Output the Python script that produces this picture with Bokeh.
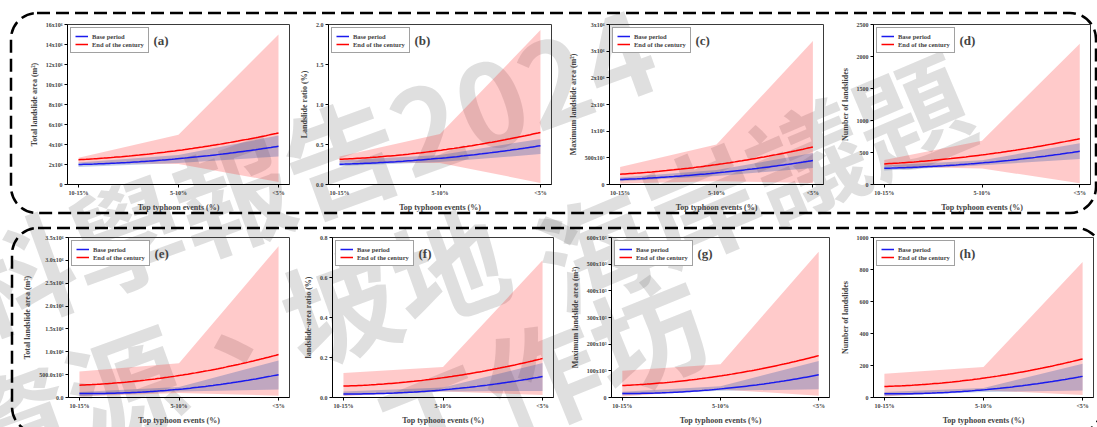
import numpy as np
from urllib.parse import quote
from bokeh.plotting import figure
from bokeh.layouts import row, column
from bokeh.models import Range1d, FixedTicker, Legend, LegendItem, Label
from bokeh.embed import file_html
from bokeh.resources import INLINE

# ---------------- data ----------------
categories = ["10-15%", "5-10%", "<5%"]
x_title = "Top typhoon events (%)"
series_names = ["Base period", "End of the century"]

# (a)
a_title = "Total landslide area (m²)"
a_base = [2.0e6, 2.58e6, 3.82e6]
a_base_lo = [1.75e6, 2.15e6, 2.8e6]
a_base_hi = [2.2e6, 2.95e6, 4.9e6]
a_end = [2.48e6, 3.41e6, 5.15e6]
a_end_lo = [2.15e6, 2.05e6, 0.25e6]
a_end_hi = [2.68e6, 4.97e6, 15.0e6]
a_yticks = [0, 2e6, 4e6, 6e6, 8e6, 10e6, 12e6, 14e6, 16e6]
a_ylabels = ["0", "2x10⁶", "4x10⁶", "6x10⁶", "8x10⁶", "10x10⁶", "12x10⁶", "14x10⁶", "16x10⁶"]

# (b)
b_title = "Landslide ratio (%)"
b_base = [0.253, 0.328, 0.485]
b_base_lo = [0.23, 0.28, 0.38]
b_base_hi = [0.30, 0.37, 0.57]
b_end = [0.315, 0.427, 0.651]
b_end_lo = [0.275, 0.27, 0.02]
b_end_hi = [0.35, 0.63, 1.93]
b_yticks = [0.0, 0.5, 1.0, 1.5, 2.0]
b_ylabels = ["0.0", "0.5", "1.0", "1.5", "2.0"]

# (c)
c_title = "Maximum landslide area (m²)"
c_base = [0.093e6, 0.218e6, 0.448e6]
c_base_lo = [0.06e6, 0.16e6, 0.31e6]
c_base_hi = [0.13e6, 0.27e6, 0.59e6]
c_end = [0.193e6, 0.373e6, 0.703e6]
c_end_lo = [0.02e6, 0.06e6, 0.03e6]
c_end_hi = [0.33e6, 0.75e6, 2.69e6]
c_yticks = [0, 0.5e6, 1.0e6, 1.5e6, 2.0e6, 2.5e6, 3.0e6]
c_ylabels = ["0", "500x10³", "1x10⁶", "2x10⁶", "2x10⁶", "3x10⁶", "3x10⁶"]

# (d)
d_title = "Number of landslides"
d_base = [254, 337, 519]
d_base_lo = [218, 300, 400]
d_base_hi = [296, 380, 643]
d_end = [322, 462, 716]
d_end_lo = [280, 250, 20]
d_end_hi = [384, 685, 2199]
d_yticks = [0, 500, 1000, 1500, 2000, 2500]
d_ylabels = ["0", "500", "1000", "1500", "2000", "2500"]

# (e)
e_title = "Total landslide area (m²)"
e_base = [0.088e6, 0.18e6, 0.50e6]
e_base_lo = [0.03e6, 0.13e6, 0.175e6]
e_base_hi = [0.12e6, 0.23e6, 0.81e6]
e_end = [0.27e6, 0.48e6, 0.94e6]
e_end_lo = [0.02e6, 0.10e6, 0.04e6]
e_end_hi = [0.57e6, 0.75e6, 3.31e6]
e_yticks = [0, 0.5e6, 1.0e6, 1.5e6, 2.0e6, 2.5e6, 3.0e6, 3.5e6]
e_ylabels = ["0.0", "500.0x10³", "1.0x10⁶", "1.5x10⁶", "2.0x10⁶", "2.5x10⁶", "3.0x10⁶", "3.5x10⁶"]

# (f)
f_title = "landslide-area ratio (%)"
f_base = [0.018, 0.038, 0.105]
f_base_lo = [0.01, 0.03, 0.033]
f_base_hi = [0.03, 0.05, 0.172]
f_end = [0.057, 0.099, 0.195]
f_end_lo = [0.008, 0.03, 0.013]
f_end_hi = [0.122, 0.152, 0.686]
f_yticks = [0.0, 0.2, 0.4, 0.6, 0.8]
f_ylabels = ["0.0", "0.2", "0.4", "0.6", "0.8"]

# (g)
g_title = "Maximum landslide area (m²)"
g_base = [15e3, 32e3, 85e3]
g_base_lo = [8e3, 25e3, 31e3]
g_base_hi = [22e3, 42e3, 137e3]
g_end = [45e3, 81e3, 157e3]
g_end_lo = [4e3, 30e3, 7e3]
g_end_hi = [100e3, 125e3, 547e3]
g_yticks = [0, 100e3, 200e3, 300e3, 400e3, 500e3, 600e3]
g_ylabels = ["0", "100x10³", "200x10³", "300x10³", "400x10³", "500x10³", "600x10³"]

# (h)
h_title = "Number of landslides"
h_base = [23, 48, 132]
h_base_lo = [10, 35, 44]
h_base_hi = [35, 60, 211]
h_end = [69, 121, 241]
h_end_lo = [6, 45, 15]
h_end_hi = [149, 190, 847]
h_yticks = [0, 200, 400, 600, 800, 1000]
h_ylabels = ["0", "200", "400", "600", "800", "1000"]

panel_tags = ["(a)", "(b)", "(c)", "(d)", "(e)", "(f)", "(g)", "(h)"]

watermark_lines = ["科學報告2024", "海岸議題", "資源、坡地、", "工作坊"]

# ---------------- build ----------------
panels = [
    dict(ytitle=a_title, base=a_base, base_lo=a_base_lo, base_hi=a_base_hi, end=a_end, end_lo=a_end_lo, end_hi=a_end_hi, yticks=a_yticks, ylabels=a_ylabels),
    dict(ytitle=b_title, base=b_base, base_lo=b_base_lo, base_hi=b_base_hi, end=b_end, end_lo=b_end_lo, end_hi=b_end_hi, yticks=b_yticks, ylabels=b_ylabels),
    dict(ytitle=c_title, base=c_base, base_lo=c_base_lo, base_hi=c_base_hi, end=c_end, end_lo=c_end_lo, end_hi=c_end_hi, yticks=c_yticks, ylabels=c_ylabels),
    dict(ytitle=d_title, base=d_base, base_lo=d_base_lo, base_hi=d_base_hi, end=d_end, end_lo=d_end_lo, end_hi=d_end_hi, yticks=d_yticks, ylabels=d_ylabels),
    dict(ytitle=e_title, base=e_base, base_lo=e_base_lo, base_hi=e_base_hi, end=e_end, end_lo=e_end_lo, end_hi=e_end_hi, yticks=e_yticks, ylabels=e_ylabels),
    dict(ytitle=f_title, base=f_base, base_lo=f_base_lo, base_hi=f_base_hi, end=f_end, end_lo=f_end_lo, end_hi=f_end_hi, yticks=f_yticks, ylabels=f_ylabels),
    dict(ytitle=g_title, base=g_base, base_lo=g_base_lo, base_hi=g_base_hi, end=g_end, end_lo=g_end_lo, end_hi=g_end_hi, yticks=g_yticks, ylabels=g_ylabels),
    dict(ytitle=h_title, base=h_base, base_lo=h_base_lo, base_hi=h_base_hi, end=h_end, end_lo=h_end_lo, end_hi=h_end_hi, yticks=h_yticks, ylabels=h_ylabels),
]
for d, t in zip(panels, panel_tags):
    d["tag"] = t

# geometry (width, height, left, right, top, bottom)
geom = [
    (296, 220, 67, 7, 23, 36),
    (269, 220, 31, 14, 24, 35),
    (272, 220, 40, 14, 23, 36),
    (260, 220, 34, 7, 23, 36),
    (300, 207, 68, 11, 16, 30),
    (267, 207, 32, 14, 17, 29),
    (270, 207, 41, 8, 17, 29),
    (260, 207, 35, 4, 17, 29),
]

SERIF = "Liberation Serif"


def make_panel(d, g):
    w, h, left, right, top, bottom = g
    ymax = d["yticks"][-1]
    p = figure(width=w, height=h, x_range=Range1d(-0.11, 2.11), y_range=Range1d(0, ymax),
               output_backend="svg", toolbar_location=None,
               min_border_left=left, min_border_right=right, min_border_top=top, min_border_bottom=bottom,
               background_fill_alpha=0, border_fill_alpha=0,
               outline_line_color="#3a3a3a", outline_line_width=1)
    p.grid.visible = False
    xi = list(range(len(categories)))
    p.varea(x=xi, y1=d["end_lo"], y2=d["end_hi"], fill_color="#ff2020", fill_alpha=0.24)
    p.varea(x=xi, y1=d["base_lo"], y2=d["base_hi"], fill_color="#2f55a8", fill_alpha=0.3)
    xs = np.linspace(0, len(categories) - 1, 80)

    def smooth(v):
        return np.polyval(np.polyfit(xi, v, 2), xs)

    r_end = p.line(xs, smooth(d["end"]), line_color="#ff0000", line_width=1.5)
    r_base = p.line(xs, smooth(d["base"]), line_color="#1a1aee", line_width=1.5)

    for ax in (p.xaxis[0], p.yaxis[0]):
        ax.axis_line_color = "black"
        ax.axis_line_width = 1
        ax.major_tick_in = 0
        ax.major_tick_out = 3
        ax.minor_tick_line_color = None
        ax.major_label_text_font = SERIF
        ax.major_label_text_font_style = "bold"
        ax.major_label_text_font_size = "6px"
        ax.axis_label_text_font = SERIF
        ax.axis_label_text_font_style = "bold"
        ax.axis_label_text_font_size = "8px"
        ax.major_label_standoff = 2
        ax.axis_label_standoff = 4
    p.xaxis.ticker = FixedTicker(ticks=xi)
    p.xaxis.major_label_overrides = {i: c for i, c in enumerate(categories)}
    p.xaxis.axis_label = x_title
    p.yaxis.ticker = FixedTicker(ticks=d["yticks"])
    p.yaxis.major_label_overrides = dict(zip(d["yticks"], d["ylabels"]))
    p.yaxis.axis_label = d["ytitle"]

    leg = Legend(items=[LegendItem(label=series_names[0], renderers=[r_base]),
                        LegendItem(label=series_names[1], renderers=[r_end])],
                 location="top_left", margin=3, padding=4, spacing=0,
                 glyph_width=13, glyph_height=8, label_height=8, label_standoff=4,
                 label_text_font=SERIF, label_text_font_style="bold", label_text_font_size="6.5px",
                 border_line_color="#444444", border_line_width=1,
                 background_fill_color="white", background_fill_alpha=1)
    p.add_layout(leg)
    p.add_layout(Label(x=-0.11, y=ymax, x_offset=86, y_offset=-8, text=d["tag"],
                       text_font=SERIF, text_font_style="bold", text_font_size="13px",
                       text_baseline="top"))
    return p


figs = [make_panel(d, g) for d, g in zip(panels, geom)]

# background: dashed rounded boxes and watermark
W, H = 1097, 427
wm_pos = [(305, 165, -20), (752, 178, -23), (285, 322, -20), (540, 372, -22)]
wm = "".join(
    f"<text x='{x}' y='{y}' transform='rotate({a} {x} {y})' text-anchor='middle' dominant-baseline='central'>{t}</text>"
    for t, (x, y, a) in zip(watermark_lines, wm_pos))
svg = (f"<svg xmlns='http://www.w3.org/2000/svg' width='{W}' height='{H}'>"
       f"<g font-family='Noto Sans CJK TC' font-weight='bold' font-size='115' fill='#7a7a7a' fill-opacity='0.24'>{wm}</g>"
       "<rect x='11' y='13' width='1085' height='200' rx='26' ry='26' fill='none' stroke='black' stroke-width='2.5' stroke-dasharray='13 6'/>"
       "<rect x='12' y='228' width='1090' height='205' rx='26' ry='26' fill='none' stroke='black' stroke-width='2.5' stroke-dasharray='13 6'/>"
       "</svg>")
bg_url = "url(\"data:image/svg+xml," + quote(svg, safe="") + "\")"

layout = column(row(*figs[:4]), row(*figs[4:]),
                styles={"background-image": bg_url, "background-repeat": "no-repeat",
                        "background-size": f"{W}px {H}px", "background-position": "0 0"})

open("out.html", "w").write(file_html(layout, INLINE))
